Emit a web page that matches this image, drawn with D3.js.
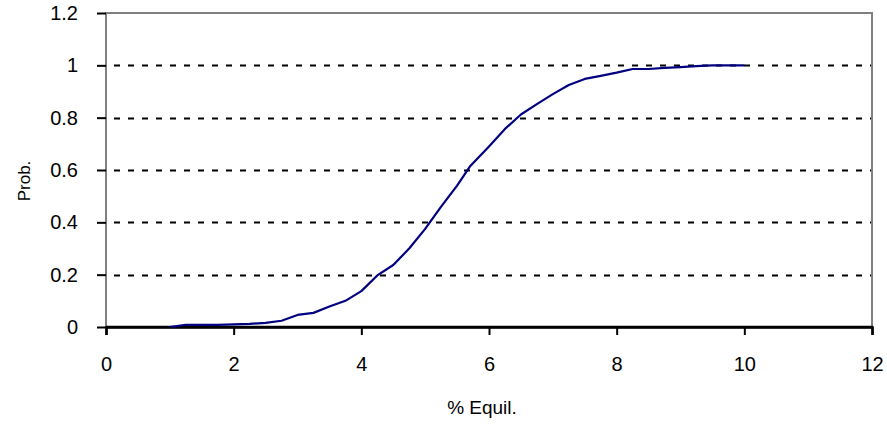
<!DOCTYPE html>
<html>
<head>
<meta charset="utf-8">
<script src="https://cdn.jsdelivr.net/npm/d3@7/dist/d3.min.js"></script>
<style>
  html, body { margin: 0; padding: 0; background: #fff; }
  svg { display: block; }
  text { font-family: "Liberation Sans", Arial, sans-serif; fill: #000; }
</style>
</head>
<body>
<svg id="chart" width="887" height="425"></svg>
<script>
const xValues = [1, 1.25, 1.5, 1.75, 2, 2.25, 2.5, 2.75, 3, 3.25, 3.5, 3.75, 4, 4.25, 4.5, 4.75, 5, 5.25, 5.5, 5.7, 6, 6.25, 6.5, 6.75, 7, 7.25, 7.5, 7.75, 8, 8.25, 8.5, 8.75, 9, 9.25, 9.5, 9.75, 10];
const probValues = [0, 0.008, 0.008, 0.008, 0.01, 0.012, 0.016, 0.024, 0.046, 0.054, 0.078, 0.1, 0.137, 0.197, 0.237, 0.3, 0.375, 0.46, 0.54, 0.613, 0.69, 0.757, 0.812, 0.852, 0.89, 0.925, 0.948, 0.96, 0.972, 0.986, 0.986, 0.99, 0.993, 0.997, 1.0, 1.0, 1.0];
const xTicks = [0, 2, 4, 6, 8, 10, 12];
const yTicks = [0, 0.2, 0.4, 0.6, 0.8, 1, 1.2];
const xLabel = "% Equil.";
const yLabel = "Prob.";

(function () {
const svg = d3.select("#chart");
const mLeft = 106, mRight = 872, mTop = 13, mBottom = 327;

const x = d3.scaleLinear().domain([0, 12]).range([mLeft, mRight]);
const y = d3.scaleLinear().domain([0, 1.2]).range([mBottom, mTop]);

// gridlines
svg.append("g").selectAll("line")
  .data(yTicks.filter(d => d > 0 && d < 1.2))
  .join("line")
  .attr("x1", mLeft).attr("x2", mRight)
  .attr("y1", d => Math.round(y(d)) + 0.5).attr("y2", d => Math.round(y(d)) + 0.5)
  .attr("stroke", "#000").attr("stroke-width", 2)
  .attr("stroke-dasharray", "6,8")
  .attr("stroke-dashoffset", -8);

// border top/right/left in gray
svg.append("path")
  .attr("d", `M${mLeft},${mBottom}V${mTop}H${mRight}V${mBottom}`)
  .attr("fill", "none").attr("stroke", "#808080").attr("stroke-width", 2);

const font = "Liberation Sans, Arial, sans-serif";

// x axis
const xAxis = d3.axisBottom(x).tickValues(xTicks).tickSize(8).tickPadding(22)
  .tickFormat(d3.format("d"));
const gx = svg.append("g").attr("transform", `translate(0,${mBottom})`).call(xAxis);
gx.select(".domain").attr("stroke", "#000").attr("stroke-width", 2.5);
gx.selectAll(".tick line").attr("stroke", "#000").attr("stroke-width", 2);
gx.selectAll(".tick text").attr("font-size", 20).attr("font-family", font).attr("fill", "#000");

// y axis
const yAxis = d3.axisLeft(y).tickValues(yTicks).tickSize(9).tickPadding(19)
  .tickFormat(d => String(+d.toFixed(1)));
const gy = svg.append("g").attr("transform", `translate(${mLeft},0)`).call(yAxis);
gy.select(".domain").remove();
gy.selectAll(".tick line").attr("stroke", "#000").attr("stroke-width", 2);
gy.selectAll(".tick text").attr("font-size", 20).attr("font-family", font).attr("fill", "#000");

// redraw bottom line on top
svg.append("line").attr("x1", mLeft).attr("x2", mRight + 1)
  .attr("y1", mBottom).attr("y2", mBottom).attr("stroke", "#000").attr("stroke-width", 2.5);

// curve
const line = d3.line().x((d, i) => x(xValues[i])).y(d => y(d));
svg.append("path").datum(probValues)
  .attr("d", line)
  .attr("fill", "none").attr("stroke", "#000080").attr("stroke-width", 2.2)
  .attr("stroke-linejoin", "round");

// axis labels
svg.append("text").attr("x", 482).attr("y", 414)
  .attr("text-anchor", "middle").attr("font-size", 19).attr("font-family", font).text(xLabel);
svg.append("text").attr("transform", "translate(30,181) rotate(-90)")
  .attr("text-anchor", "middle").attr("font-size", 17).attr("font-family", font)
  .attr("fill", "#222").text(yLabel);
})();
</script>
</body>
</html>
